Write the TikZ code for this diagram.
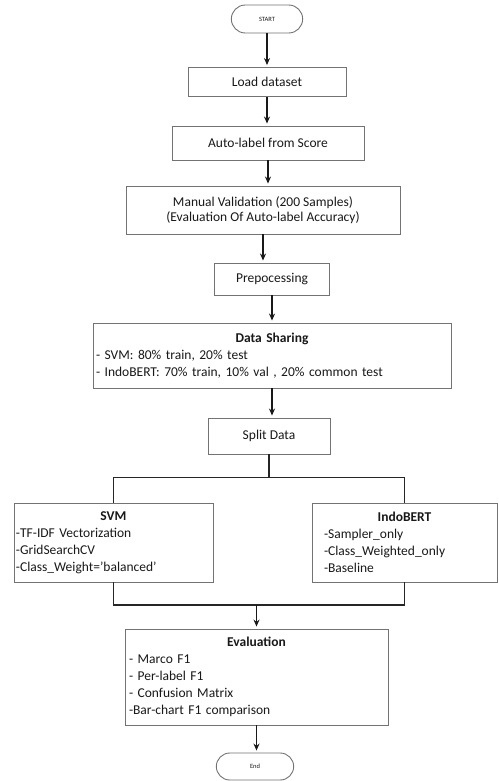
\documentclass[tikz,border=0pt]{standalone}
\usepackage{fontspec}
\setmainfont{Carlito}
\usetikzlibrary{arrows.meta,shapes.misc}
\tikzset{
  ar/.style={-{Stealth[length=7pt,width=6pt]},line width=1.3pt,black!90,shorten >=2pt},
  ln/.style={line width=1.2pt,black!85},
  box/.style={draw=black!55,line width=0.9pt,fill=white,align=center,inner sep=2pt,text=black!90,font=\fontsize{13.5}{15}\selectfont},
  lst/.style={box,align=left,font=\fontsize{13.5}{17}\selectfont},
  term/.style={draw=black!55,line width=0.9pt,rounded rectangle,fill=white,text=black!90,font=\fontsize{6.5}{8}\selectfont}
}

\begin{document}
\begin{tikzpicture}[x=1pt,y=-1pt]
\useasboundingbox[fill=white] (0,0) rectangle (498,781);
% main column
\node[term,minimum width=78,minimum height=28] (start) at (267,19) {START};
\node[box,minimum width=158,minimum height=29] (load) at (267,82) {Load dataset};
\node[box,minimum width=192,minimum height=34] (auto) at (268,143) {Auto-label from Score};
\node[box,minimum width=274,minimum height=48] (manual) at (263,210) {Manual Validation (200 Samples)\\(Evaluation Of Auto-label Accuracy)};
\node[box,minimum width=115,minimum height=32] (prep) at (272,279) {Prepocessing};
\node[lst,text width=352,inner xsep=3,minimum height=65] (share) at (272,355.5)
  {\makebox[\linewidth]{\bfseries Data Sharing}\\- SVM: 80\% train, 20\% test\\- IndoBERT: 70\% train, 10\% val , 20\% common test};
\node[box,minimum width=122,minimum height=36] (split) at (269,436) {Split Data};
% the two models
\node[lst,text width=195,minimum height=79] (svm) at (113.5,542.5)
  {\makebox[\linewidth]{\bfseries SVM}\\-TF-IDF Vectorization\\-GridSearchCV\\-Class\_Weight='balanced'};
\node[lst,text width=161,inner xsep=12,minimum height=79] (bert) at (404.5,542.5)
  {\makebox[\linewidth]{\bfseries IndoBERT}\\-Sampler\_only\\-Class\_Weighted\_only\\-Baseline};
\node[lst,text width=255,inner xsep=4,minimum height=96] (eval) at (256.5,677)
  {\makebox[\linewidth]{\bfseries Evaluation}\\- Marco F1\\- Per-label F1\\- Confusion Matrix\\-Bar-chart F1 comparison};
\node[term,minimum width=84,minimum height=27] (end) at (255,766.5) {End};
% arrows
\draw[ar] (start.south) -- (start.south |- load.north);
\draw[ar] (load.south) -- (load.south |- auto.north);
\draw[ar] (auto.south) -- (auto.south |- manual.north);
\draw[ar] (manual.south) -- (manual.south |- prep.north);
\draw[ar] (prep.south) -- (prep.south |- share.north);
\draw[ar] (share.south) -- (share.south |- split.north);
\coordinate (fork) at ([yshift=-23]split.south);
\draw[ln] (split.south) -- (fork);
\draw[ln] (svm.north) |- (fork) -| (bert.north);
\coordinate (join) at (eval.north |- 0,605);
\draw[ln] (svm.south) |- (join) -| (bert.south);
\draw[ar] (join) -- (eval.north);
\draw[ar] (eval.south) -- (eval.south |- end.north);
\end{tikzpicture}
\end{document}
